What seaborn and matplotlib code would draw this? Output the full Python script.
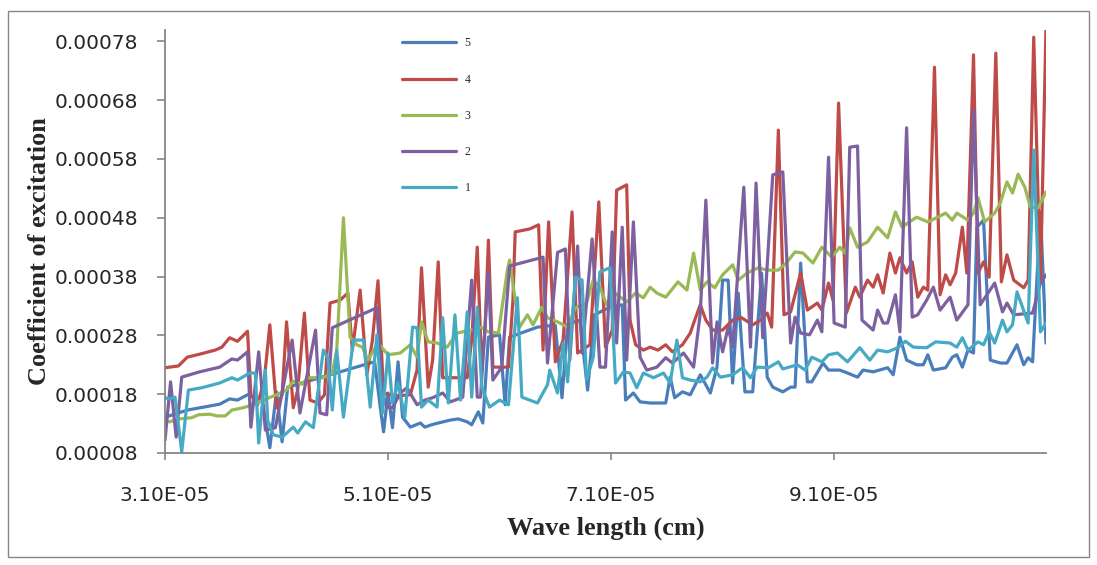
import matplotlib
matplotlib.use("Agg")
import numpy as np
import pandas as pd
import matplotlib.pyplot as plt
import seaborn as sns
from matplotlib.ticker import FuncFormatter, FormatStrFormatter

# wavelength in 1e-5 cm, coefficient in 1e-4
s5 = [(3.10, 1.41), (3.17, 1.45), (3.30, 1.53), (3.59, 1.63), (3.68, 1.72), (3.75, 1.70), (3.84, 1.79),
      (3.97, 1.70), (4.04, 0.89), (4.10, 1.84), (4.15, 0.99), (4.20, 1.92), (4.49, 2.08), (4.94, 2.33),
      (4.98, 2.35), (5.03, 1.58), (5.06, 1.16), (5.10, 1.82), (5.14, 1.23), (5.19, 2.35), (5.23, 1.41),
      (5.30, 1.24), (5.39, 1.31), (5.43, 1.24), (5.49, 1.28), (5.55, 1.31), (5.66, 1.36), (5.73, 1.38),
      (5.81, 1.33), (5.85, 1.28), (5.91, 1.50), (5.95, 1.31), (6.00, 2.77), (6.10, 2.81), (6.15, 1.62),
      (6.19, 2.77), (6.44, 2.94), (6.53, 2.96), (6.60, 2.97), (6.66, 1.74), (6.71, 2.99), (6.82, 3.06),
      (6.89, 1.87), (6.95, 3.15), (7.09, 3.28), (7.20, 3.32), (7.23, 1.70), (7.30, 1.82), (7.36, 1.67),
      (7.45, 1.65), (7.59, 1.65), (7.63, 2.09), (7.67, 1.74), (7.74, 1.84), (7.81, 1.79), (7.90, 2.13),
      (7.99, 1.82), (8.05, 2.26), (8.10, 3.74), (8.15, 3.74), (8.19, 1.99), (8.24, 3.52), (8.30, 1.84),
      (8.37, 1.84), (8.45, 3.86), (8.50, 2.09), (8.55, 1.92), (8.64, 1.84), (8.71, 1.92), (8.75, 1.92),
      (8.80, 4.03), (8.86, 2.01), (8.90, 2.01), (9.00, 2.33), (9.05, 2.21), (9.15, 2.21), (9.22, 2.16),
      (9.31, 2.09), (9.36, 2.21), (9.45, 2.18), (9.58, 2.25), (9.63, 2.13), (9.69, 2.77), (9.75, 2.38),
      (9.84, 2.30), (9.90, 2.30), (9.94, 2.47), (9.99, 2.21), (10.10, 2.25), (10.16, 2.43), (10.20, 2.47),
      (10.25, 2.26), (10.30, 2.55), (10.35, 2.50), (10.38, 4.64), (10.44, 4.76), (10.50, 2.38),
      (10.59, 2.33), (10.65, 2.33), (10.74, 2.64), (10.80, 2.30), (10.84, 2.42), (10.88, 2.35),
      (10.95, 4.90), (11.00, 2.67)]

s4 = [(3.10, 2.25), (3.22, 2.28), (3.30, 2.43), (3.41, 2.48), (3.55, 2.55), (3.61, 2.60), (3.68, 2.76),
      (3.75, 2.70), (3.84, 2.87), (3.87, 1.79), (3.93, 1.62), (3.99, 2.04), (4.04, 2.98), (4.10, 1.57),
      (4.15, 1.79), (4.19, 3.03), (4.25, 1.57), (4.29, 1.87), (4.35, 3.18), (4.40, 1.70), (4.47, 1.65),
      (4.53, 1.79), (4.58, 3.35), (4.67, 3.40), (4.74, 3.52), (4.78, 2.55), (4.85, 3.57), (4.91, 2.13),
      (4.96, 2.72), (5.01, 3.73), (5.06, 1.82), (5.16, 1.77), (5.30, 1.79), (5.36, 2.21), (5.40, 3.95),
      (5.46, 1.92), (5.50, 2.38), (5.55, 4.05), (5.59, 2.08), (5.70, 2.08), (5.81, 2.08), (5.85, 2.72),
      (5.90, 4.30), (5.94, 2.21), (5.97, 2.89), (6.00, 4.42), (6.04, 2.26), (6.18, 2.26), (6.22, 3.40),
      (6.24, 4.56), (6.37, 4.61), (6.45, 4.68), (6.49, 2.55), (6.54, 4.73), (6.60, 2.35), (6.67, 2.72),
      (6.75, 4.90), (6.80, 2.50), (6.91, 2.64), (6.99, 5.07), (7.05, 2.60), (7.11, 2.89), (7.15, 5.27),
      (7.24, 5.36), (7.27, 3.06), (7.32, 2.64), (7.39, 2.55), (7.45, 2.60), (7.52, 2.55), (7.59, 2.64),
      (7.65, 2.52), (7.74, 2.64), (7.81, 2.84), (7.85, 3.06), (7.90, 3.32), (7.95, 3.06), (8.01, 2.89),
      (8.10, 2.89), (8.19, 3.06), (8.27, 3.10), (8.37, 2.98), (8.44, 3.06), (8.50, 3.18), (8.54, 2.94),
      (8.60, 6.29), (8.65, 3.15), (8.71, 3.20), (8.80, 3.86), (8.86, 3.23), (8.95, 3.35), (8.99, 3.23),
      (9.05, 3.69), (9.09, 3.40), (9.14, 6.75), (9.21, 3.18), (9.29, 3.62), (9.33, 3.45), (9.40, 3.74),
      (9.45, 3.62), (9.49, 3.83), (9.54, 3.52), (9.60, 4.20), (9.65, 3.86), (9.69, 4.12), (9.75, 3.86),
      (9.80, 4.05), (9.85, 3.45), (9.90, 3.62), (9.94, 3.57), (10.00, 7.36), (10.05, 3.49), (10.10, 3.83),
      (10.14, 3.66), (10.19, 3.86), (10.25, 4.64), (10.29, 3.86), (10.35, 7.57), (10.39, 3.86),
      (10.44, 4.05), (10.49, 3.79), (10.55, 7.60), (10.60, 3.71), (10.65, 4.17), (10.71, 3.74),
      (10.80, 3.61), (10.84, 3.74), (10.89, 7.87), (10.95, 3.69), (11.00, 8.04)]

s3 = [(3.10, 1.36), (3.14, 1.33), (3.23, 1.38), (3.34, 1.40), (3.40, 1.45), (3.50, 1.46), (3.57, 1.43),
      (3.64, 1.43), (3.70, 1.53), (3.80, 1.57), (3.89, 1.62), (3.98, 1.70), (4.10, 1.79), (4.19, 1.87),
      (4.25, 2.02), (4.33, 1.97), (4.38, 2.08), (4.52, 2.08), (4.60, 2.16), (4.64, 2.55), (4.70, 4.80),
      (4.76, 2.77), (4.82, 2.64), (4.87, 2.60), (4.92, 2.38), (5.01, 2.67), (5.10, 2.47), (5.21, 2.50),
      (5.30, 2.64), (5.36, 2.43), (5.40, 3.03), (5.46, 2.69), (5.54, 2.67), (5.63, 2.60), (5.72, 2.84),
      (5.84, 2.89), (5.93, 2.94), (6.00, 2.86), (6.09, 2.84), (6.17, 3.91), (6.19, 4.08), (6.24, 3.40),
      (6.28, 2.94), (6.35, 3.15), (6.40, 2.98), (6.48, 3.28), (6.53, 3.10), (6.62, 3.03), (6.71, 2.94),
      (6.78, 3.27), (6.88, 3.35), (6.94, 3.74), (7.00, 3.62), (7.06, 3.32), (7.12, 3.54), (7.24, 3.37),
      (7.32, 3.52), (7.39, 3.44), (7.45, 3.62), (7.51, 3.52), (7.59, 3.45), (7.70, 3.71), (7.78, 3.57),
      (7.84, 4.20), (7.90, 3.57), (7.96, 3.71), (8.03, 3.61), (8.10, 3.83), (8.19, 4.00), (8.24, 3.74),
      (8.32, 3.86), (8.42, 3.95), (8.50, 3.91), (8.60, 3.91), (8.67, 4.03), (8.75, 4.22), (8.82, 4.20),
      (8.91, 4.03), (8.99, 4.30), (9.08, 4.13), (9.15, 4.30), (9.20, 4.20), (9.24, 4.63), (9.31, 4.30),
      (9.40, 4.39), (9.49, 4.64), (9.58, 4.46), (9.65, 4.90), (9.71, 4.64), (9.76, 4.71), (9.84, 4.81),
      (9.94, 4.73), (10.03, 4.81), (10.10, 4.88), (10.16, 4.76), (10.20, 4.88), (10.30, 4.76),
      (10.35, 4.88), (10.39, 5.14), (10.45, 4.73), (10.54, 4.88), (10.59, 5.05), (10.65, 5.41),
      (10.70, 5.22), (10.75, 5.54), (10.81, 5.32), (10.86, 4.98), (10.93, 4.97), (11.00, 5.24)]

s2 = [(3.10, 1.02), (3.15, 2.01), (3.20, 1.07), (3.25, 2.09), (3.41, 2.18), (3.59, 2.26), (3.70, 2.40),
      (3.75, 2.38), (3.84, 2.52), (3.87, 1.24), (3.94, 2.52), (4.00, 1.19), (4.09, 1.23), (4.24, 2.72),
      (4.31, 1.48), (4.45, 2.89), (4.49, 1.48), (4.55, 1.45), (4.60, 2.93), (5.00, 3.27), (5.05, 1.82),
      (5.09, 1.58), (5.14, 1.57), (5.21, 1.82), (5.27, 1.91), (5.36, 1.62), (5.43, 1.70), (5.50, 1.74),
      (5.59, 1.82), (5.66, 1.67), (5.77, 1.75), (5.85, 3.74), (5.90, 1.75), (5.93, 1.75), (6.00, 3.88),
      (6.04, 2.04), (6.12, 2.26), (6.19, 3.98), (6.49, 4.13), (6.53, 2.33), (6.62, 4.21), (6.69, 4.27),
      (6.73, 2.38), (6.80, 4.32), (6.84, 2.50), (6.93, 4.44), (7.00, 2.26), (7.05, 2.26), (7.11, 4.56),
      (7.15, 2.67), (7.20, 4.64), (7.24, 2.38), (7.30, 4.73), (7.36, 2.43), (7.42, 2.21), (7.51, 2.26),
      (7.59, 2.42), (7.65, 2.33), (7.75, 2.50), (7.84, 2.26), (7.90, 3.18), (7.95, 5.10), (8.01, 2.33),
      (8.05, 3.03), (8.10, 2.52), (8.15, 2.94), (8.19, 2.60), (8.29, 5.32), (8.35, 2.60), (8.40, 5.39),
      (8.46, 2.76), (8.55, 5.53), (8.64, 5.58), (8.71, 2.67), (8.75, 3.11), (8.80, 2.84), (8.88, 2.81),
      (8.95, 3.06), (8.99, 2.86), (9.05, 5.83), (9.10, 3.01), (9.20, 2.94), (9.24, 6.00), (9.31, 6.02),
      (9.35, 3.06), (9.45, 2.89), (9.49, 3.23), (9.54, 3.01), (9.58, 3.01), (9.65, 3.49), (9.69, 2.86),
      (9.75, 6.33), (9.80, 3.11), (9.85, 3.15), (9.93, 3.40), (9.99, 3.62), (10.05, 3.23), (10.14, 3.45),
      (10.20, 3.06), (10.30, 3.32), (10.35, 6.63), (10.41, 3.32), (10.54, 3.69), (10.61, 3.20),
      (10.65, 3.35), (10.71, 3.15), (10.88, 3.18), (10.95, 3.69), (11.00, 3.83)]

s1 = [(3.10, 1.74), (3.14, 1.72), (3.19, 1.75), (3.25, 0.82), (3.31, 1.87), (3.43, 1.91), (3.59, 1.99),
      (3.70, 2.08), (3.75, 2.04), (3.86, 2.16), (3.91, 2.16), (3.94, 0.97), (4.00, 2.21), (4.02, 1.36),
      (4.07, 1.11), (4.15, 1.07), (4.25, 1.24), (4.29, 1.14), (4.36, 1.33), (4.43, 1.23), (4.52, 2.55),
      (4.56, 2.42), (4.60, 1.53), (4.64, 2.55), (4.70, 1.41), (4.79, 2.72), (4.88, 2.72), (4.94, 1.58),
      (5.00, 2.81), (5.05, 1.48), (5.10, 2.50), (5.14, 1.65), (5.19, 1.99), (5.25, 1.41), (5.32, 2.94),
      (5.36, 2.93), (5.40, 1.58), (5.46, 1.70), (5.54, 1.58), (5.59, 3.10), (5.64, 1.65), (5.70, 3.15),
      (5.75, 1.70), (5.81, 3.20), (5.85, 1.75), (5.90, 3.28), (5.94, 1.92), (6.01, 1.58), (6.10, 1.70),
      (6.18, 1.62), (6.26, 3.44), (6.30, 1.75), (6.44, 1.65), (6.53, 1.96), (6.55, 2.21), (6.62, 1.82),
      (6.67, 2.67), (6.71, 2.01), (6.78, 3.79), (6.84, 3.74), (6.88, 2.04), (6.94, 2.43), (7.00, 3.88),
      (7.09, 3.95), (7.14, 1.99), (7.21, 2.18), (7.27, 2.16), (7.33, 1.91), (7.39, 2.16), (7.48, 2.08),
      (7.57, 2.16), (7.63, 1.99), (7.69, 2.72), (7.74, 2.08), (7.81, 2.04), (7.90, 2.01), (7.96, 2.09),
      (8.01, 2.25), (8.08, 2.09), (8.19, 2.13), (8.28, 2.25), (8.35, 2.08), (8.41, 2.26), (8.51, 2.25),
      (8.60, 2.35), (8.64, 2.23), (8.77, 2.30), (8.84, 2.21), (8.90, 2.43), (8.99, 2.35), (9.05, 2.47),
      (9.13, 2.50), (9.22, 2.35), (9.33, 2.59), (9.42, 2.38), (9.49, 2.55), (9.58, 2.52), (9.67, 2.59),
      (9.74, 2.70), (9.81, 2.60), (9.93, 2.59), (10.01, 2.69), (10.14, 2.67), (10.20, 2.60),
      (10.25, 2.76), (10.30, 2.55), (10.39, 2.69), (10.44, 2.64), (10.49, 2.86), (10.54, 2.67),
      (10.61, 3.06), (10.65, 2.86), (10.70, 2.98), (10.74, 3.54), (10.84, 3.01), (10.89, 5.95),
      (10.95, 2.86), (11.00, 3.01)]

series = [("5", s5, "#4A7EBB"), ("4", s4, "#BE4B48"), ("3", s3, "#98B954"),
          ("2", s2, "#7D60A0"), ("1", s1, "#46AAC5")]

x_ticks = [3.1e-5, 5.1e-5, 7.1e-5, 9.1e-5]
y_ticks = [0.00008, 0.00018, 0.00028, 0.00038, 0.00048, 0.00058, 0.00068, 0.00078]

sns.set_style("white")
plt.rcParams["font.family"] = ["DejaVu Sans"]

W, H = 1097, 565
fig = plt.figure(figsize=(W / 100, H / 100), dpi=100)
ax = fig.add_axes([165 / W, 1 - 453 / H, 881 / W, (453 - 29.6) / H])

for name, pts, col in series:
    wl, k = zip(*pts)
    df = pd.DataFrame({"wl": np.array(wl) * 1e-5, "k": np.array(k) * 1e-4})
    sns.lineplot(data=df, x="wl", y="k", color=col, lw=2.3, label=name,
                 estimator=None, sort=False, ax=ax,
                 solid_joinstyle="round", solid_capstyle="round")

ax.set_xlim(3.1e-5, 1.1e-4)
ax.set_ylim(0.00008, 0.0008)
ax.set_xticks(x_ticks)
ax.set_yticks(y_ticks)
ax.xaxis.set_major_formatter(FuncFormatter(lambda v, p: f"{v:.2E}"))
ax.yaxis.set_major_formatter(FormatStrFormatter("%.5f"))

gray = "#868686"
for s in ["top", "right"]:
    ax.spines[s].set_visible(False)
for s in ["left", "bottom"]:
    ax.spines[s].set_color(gray)
    ax.spines[s].set_linewidth(1.3)
ax.tick_params(axis="y", direction="out", length=6, width=1.2, color=gray,
               labelsize=14.5, pad=13, left=True)
ax.tick_params(axis="x", direction="out", length=5, width=1.2, color=gray,
               labelsize=14.5, pad=19, bottom=True)
ax.grid(False)

ax.set_xlabel("Wave length (cm)", family="Liberation Serif", weight="bold",
              fontsize=19, va="center")
ax.xaxis.set_label_coords(0.5, (453 - 528) / (453 - 29.6))
ax.set_ylabel("Coefficient of excitation", family="Liberation Serif", weight="bold",
              fontsize=19, va="center")
ax.yaxis.set_label_coords((40 - 165) / 881, (453 - 251) / (453 - 29.6))

ax.legend(loc="upper left", bbox_to_anchor=(402 / W, 1 - 37.5 / H),
          bbox_transform=fig.transFigure, frameon=False, borderpad=0,
          borderaxespad=0, handlelength=4.6, handletextpad=0.7,
          labelspacing=2.05, prop={"family": "Liberation Serif", "size": 8.5})

fig.patches.append(plt.Rectangle((8 / W, 1 - 557 / H), 1081 / W, 546 / H,
                                 transform=fig.transFigure, fill=False,
                                 edgecolor=gray, lw=1))

fig.savefig("out.png", dpi=100)
